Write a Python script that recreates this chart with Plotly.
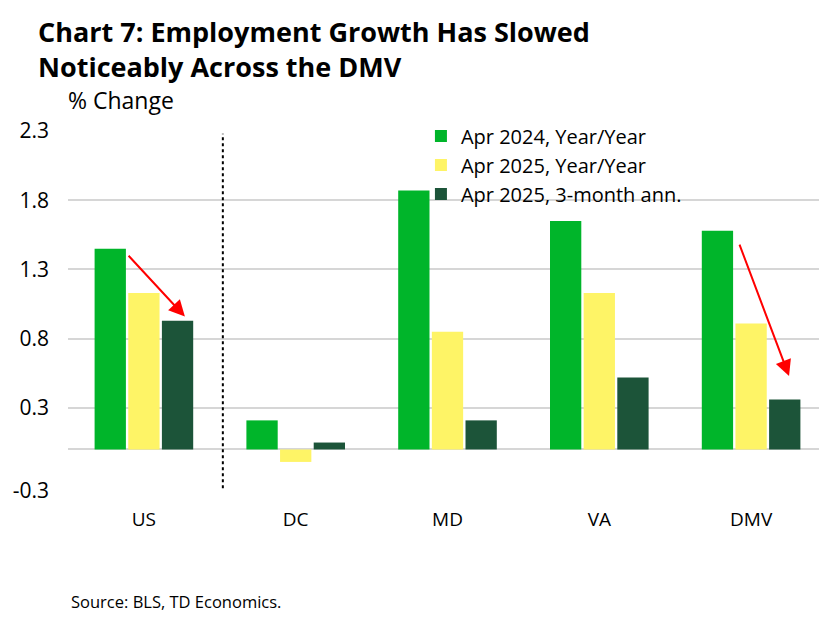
import plotly.graph_objects as go

regions = ["US", "DC", "MD", "VA", "DMV"]
yoy_2024 = [1.45, 0.21, 1.87, 1.65, 1.58]
yoy_2025 = [1.13, -0.09, 0.85, 1.13, 0.91]
ann_3m_2025 = [0.93, 0.05, 0.21, 0.52, 0.36]

series_names = ["Apr 2024, Year/Year", "Apr 2025, Year/Year", "Apr 2025, 3-month ann."]
colors = ["#00b52a", "#fef466", "#1c5439"]
y_ticks = [-0.3, 0.3, 0.8, 1.3, 1.8, 2.3]

FONT = "Open Sans"

fig = go.Figure()
for name, vals, col in zip(series_names, [yoy_2024, yoy_2025, ann_3m_2025], colors):
    fig.add_trace(go.Bar(x=regions, y=vals, name=name, marker_color=col,
                         marker_line_width=0))

# dotted separator between US and the regions
fig.add_shape(type="line", xref="x", yref="y", x0=0.52, x1=0.52, y0=-0.28, y1=2.28,
              line=dict(color="black", width=2, dash="dot"))

# red arrows
for (x0, y0, x1, y1) in [(-0.11, 1.41, 0.27, 0.96), (3.92, 1.49, 4.25, 0.53)]:
    fig.add_annotation(x=x1, y=y1, ax=x0, ay=y0, xref="x", yref="y", axref="x", ayref="y",
                       showarrow=True, arrowhead=2, arrowsize=1.6, arrowwidth=2,
                       arrowcolor="#ff0000", text="")

fig.add_annotation(text="<b>Chart 7: Employment Growth Has Slowed<br>Noticeably Across the DMV</b>",
                   xref="paper", yref="paper", x=-0.042, y=1.333, xanchor="left", yanchor="top",
                   align="left", showarrow=False, font=dict(size=27, color="black", family=FONT))
fig.add_annotation(text="% Change", xref="paper", yref="paper", x=-0.003, y=1.037,
                   xanchor="left", yanchor="bottom", showarrow=False,
                   font=dict(size=23, color="black", family=FONT))
fig.add_annotation(text="Source: BLS, TD Economics.", xref="paper", yref="paper", x=0.001, y=-0.27,
                   xanchor="left", yanchor="top", showarrow=False,
                   font=dict(size=16.5, color="black", family=FONT))

fig.update_layout(
    width=819, height=609,
    margin=dict(l=60, r=0, t=123, b=126),
    paper_bgcolor="white", plot_bgcolor="white",
    font=dict(family=FONT, size=19, color="black"),
    barmode="group", bargap=0.335, bargroupgap=0.07,
    showlegend=True,
    legend=dict(x=0.465, y=1.04, xanchor="left", yanchor="top", bgcolor="rgba(0,0,0,0)",
                font=dict(size=20, family=FONT), itemwidth=30, tracegroupgap=0),
)
fig.update_xaxes(showgrid=False, showline=False, ticks="", tickfont=dict(size=19),
                 ticklabelstandoff=15)
fig.update_yaxes(range=[-0.3, 2.3], tickvals=y_ticks, ticktext=[f"{v:.1f}" for v in y_ticks],
                 showgrid=True, gridcolor="#d6d6d6", gridwidth=1.5,
                 zeroline=True, zerolinecolor="#d6d6d6", zerolinewidth=1.5,
                 showline=False, ticks="", ticklabelstandoff=18, tickfont=dict(size=21))

fig.write_html("out.html")
